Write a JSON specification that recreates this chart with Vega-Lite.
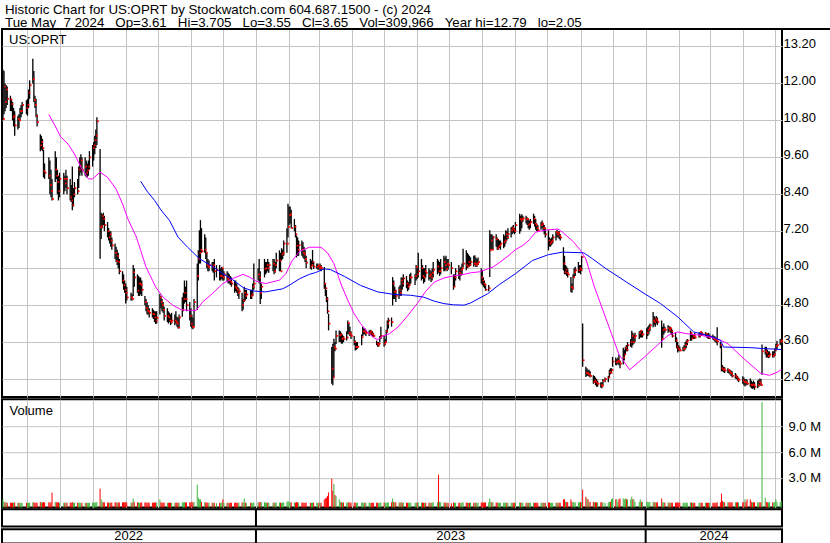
{
"$schema":"https://vega.github.io/schema/vega-lite/v6.json",
"background":"white",
"padding":{"left":0,"top":2,"right":0,"bottom":0},
"spacing":0.2,
"title":{"text":["Historic Chart for US:OPRT by Stockwatch.com 604.687.1500 - (c) 2024","Tue May \u00a07 2024 \u00a0\u00a0Op=3.61 \u00a0\u00a0Hi=3.705 \u00a0\u00a0Lo=3.55 \u00a0\u00a0Cl=3.65 \u00a0\u00a0Vol=309,966 \u00a0\u00a0Year hi=12.79 \u00a0\u00a0lo=2.05"],"anchor":"start","frame":"bounds","font":"Liberation Sans","fontSize":13.3,"fontWeight":"normal","color":"black","lineHeight":13.5,"offset":-2.7,"dx":5},
"config":{
"view":{"stroke":"black","strokeWidth":2},
"axis":{"domain":false,"ticks":false,"gridColor":"#c4c4c4","gridWidth":1,"labelFont":"Liberation Sans","labelFontSize":13,"labelColor":"black","labelOverlap":false,"labelFlush":false}
},
"datasets":{
"yrs":[{"d":"2023-01-01"},{"d":"2024-01-01"}],
"ma":[
{"d":"2022-06-21","s":"a","p":10.99},{"d":"2022-06-26","s":"a","p":10.68},{"d":"2022-07-02","s":"a","p":10.27},{"d":"2022-07-09","s":"a","p":10.03},{"d":"2022-07-15","s":"a","p":9.71},{"d":"2022-07-21","s":"a","p":9.28},{"d":"2022-07-28","s":"a","p":8.9},{"d":"2022-08-01","s":"a","p":8.9},{"d":"2022-08-08","s":"a","p":9.12},{"d":"2022-08-15","s":"a","p":8.95},{"d":"2022-08-23","s":"a","p":8.57},{"d":"2022-08-29","s":"a","p":8.09},{"d":"2022-09-03","s":"a","p":7.6},{"d":"2022-09-11","s":"a","p":7.01},{"d":"2022-09-15","s":"a","p":6.58},{"d":"2022-09-20","s":"a","p":6.04},{"d":"2022-09-26","s":"a","p":5.61},{"d":"2022-09-29","s":"a","p":5.39},{"d":"2022-10-06","s":"a","p":5.06},{"d":"2022-10-15","s":"a","p":4.8},{"d":"2022-10-23","s":"a","p":4.65},{"d":"2022-10-31","s":"a","p":4.63},{"d":"2022-11-06","s":"a","p":4.63},{"d":"2022-11-12","s":"a","p":4.9},{"d":"2022-11-21","s":"a","p":5.17},{"d":"2022-12-01","s":"a","p":5.5},{"d":"2022-12-10","s":"a","p":5.66},{"d":"2022-12-20","s":"a","p":5.8},{"d":"2022-12-26","s":"a","p":5.71},{"d":"2023-01-01","s":"a","p":5.58},{"d":"2023-01-10","s":"a","p":5.5},{"d":"2023-01-23","s":"a","p":5.61},{"d":"2023-01-29","s":"a","p":5.82},{"d":"2023-02-04","s":"a","p":6.25},{"d":"2023-02-11","s":"a","p":6.55},{"d":"2023-02-20","s":"a","p":6.68},{"d":"2023-03-03","s":"a","p":6.68},{"d":"2023-03-09","s":"a","p":6.5},{"d":"2023-03-15","s":"a","p":6.15},{"d":"2023-03-22","s":"a","p":5.45},{"d":"2023-03-28","s":"a","p":4.96},{"d":"2023-04-03","s":"a","p":4.52},{"d":"2023-04-09","s":"a","p":4.2},{"d":"2023-04-16","s":"a","p":3.9},{"d":"2023-04-22","s":"a","p":3.73},{"d":"2023-04-25","s":"a","p":3.68},{"d":"2023-04-30","s":"a","p":3.8},{"d":"2023-05-06","s":"a","p":3.87},{"d":"2023-05-14","s":"a","p":4.09},{"d":"2023-05-23","s":"a","p":4.45},{"d":"2023-06-01","s":"a","p":4.85},{"d":"2023-06-09","s":"a","p":5.25},{"d":"2023-06-17","s":"a","p":5.55},{"d":"2023-06-26","s":"a","p":5.68},{"d":"2023-07-05","s":"a","p":5.75},{"d":"2023-07-15","s":"a","p":5.8},{"d":"2023-07-21","s":"a","p":5.85},{"d":"2023-07-29","s":"a","p":5.88},{"d":"2023-08-04","s":"a","p":5.95},{"d":"2023-08-11","s":"a","p":6.04},{"d":"2023-08-17","s":"a","p":6.18},{"d":"2023-08-26","s":"a","p":6.42},{"d":"2023-09-01","s":"a","p":6.6},{"d":"2023-09-08","s":"a","p":6.74},{"d":"2023-09-14","s":"a","p":6.92},{"d":"2023-09-20","s":"a","p":7.17},{"d":"2023-09-30","s":"a","p":7.24},{"d":"2023-10-11","s":"a","p":7.27},{"d":"2023-10-15","s":"a","p":7.17},{"d":"2023-10-25","s":"a","p":6.87},{"d":"2023-11-01","s":"a","p":6.58},{"d":"2023-11-06","s":"a","p":6.3},{"d":"2023-11-14","s":"a","p":5.39},{"d":"2023-11-22","s":"a","p":4.63},{"d":"2023-11-30","s":"a","p":3.87},{"d":"2023-12-07","s":"a","p":3.2},{"d":"2023-12-17","s":"a","p":2.7},{"d":"2023-12-31","s":"a","p":3.12},{"d":"2024-01-12","s":"a","p":3.5},{"d":"2024-01-22","s":"a","p":3.82},{"d":"2024-01-31","s":"a","p":3.93},{"d":"2024-02-09","s":"a","p":3.87},{"d":"2024-02-22","s":"a","p":3.82},{"d":"2024-03-08","s":"a","p":3.71},{"d":"2024-03-18","s":"a","p":3.55},{"d":"2024-04-02","s":"a","p":3.06},{"d":"2024-04-18","s":"a","p":2.58},{"d":"2024-04-26","s":"a","p":2.52},{"d":"2024-05-04","s":"a","p":2.63},{"d":"2024-05-07","s":"a","p":2.71},
{"d":"2022-09-15","s":"b","p":8.82},{"d":"2022-09-21","s":"b","p":8.5},{"d":"2022-09-28","s":"b","p":8.2},{"d":"2022-10-04","s":"b","p":7.89},{"d":"2022-10-12","s":"b","p":7.55},{"d":"2022-10-20","s":"b","p":7.01},{"d":"2022-10-29","s":"b","p":6.68},{"d":"2022-11-09","s":"b","p":6.31},{"d":"2022-11-22","s":"b","p":6.04},{"d":"2022-12-01","s":"b","p":5.82},{"d":"2022-12-10","s":"b","p":5.63},{"d":"2022-12-20","s":"b","p":5.37},{"d":"2022-12-29","s":"b","p":5.26},{"d":"2023-01-10","s":"b","p":5.23},{"d":"2023-01-26","s":"b","p":5.33},{"d":"2023-02-01","s":"b","p":5.44},{"d":"2023-02-11","s":"b","p":5.66},{"d":"2023-02-20","s":"b","p":5.8},{"d":"2023-02-26","s":"b","p":5.86},{"d":"2023-03-06","s":"b","p":5.98},{"d":"2023-03-12","s":"b","p":5.95},{"d":"2023-03-25","s":"b","p":5.73},{"d":"2023-04-09","s":"b","p":5.44},{"d":"2023-04-25","s":"b","p":5.23},{"d":"2023-05-10","s":"b","p":5.15},{"d":"2023-05-26","s":"b","p":5.12},{"d":"2023-06-07","s":"b","p":5.06},{"d":"2023-06-17","s":"b","p":4.93},{"d":"2023-06-26","s":"b","p":4.85},{"d":"2023-07-05","s":"b","p":4.81},{"d":"2023-07-15","s":"b","p":4.8},{"d":"2023-07-21","s":"b","p":4.87},{"d":"2023-08-06","s":"b","p":5.17},{"d":"2023-08-17","s":"b","p":5.47},{"d":"2023-09-01","s":"b","p":5.82},{"d":"2023-09-17","s":"b","p":6.25},{"d":"2023-10-02","s":"b","p":6.44},{"d":"2023-10-15","s":"b","p":6.52},{"d":"2023-11-04","s":"b","p":6.5},{"d":"2023-11-12","s":"b","p":6.31},{"d":"2023-11-25","s":"b","p":5.98},{"d":"2023-12-07","s":"b","p":5.71},{"d":"2023-12-14","s":"b","p":5.55},{"d":"2024-01-01","s":"b","p":5.15},{"d":"2024-01-15","s":"b","p":4.85},{"d":"2024-01-31","s":"b","p":4.42},{"d":"2024-02-15","s":"b","p":3.93},{"d":"2024-03-02","s":"b","p":3.79},{"d":"2024-03-11","s":"b","p":3.66},{"d":"2024-03-14","s":"b","p":3.44},{"d":"2024-04-08","s":"b","p":3.42},{"d":"2024-04-20","s":"b","p":3.39},{"d":"2024-05-07","s":"b","p":3.36}
],
"px":[
{"d":"2022-05-09","h":12.45,"l":10.8,"c":10.85,"v":0.5},{"d":"2022-05-10","h":12.4,"l":11.0,"c":11.9,"v":0.2},{"d":"2022-05-11","h":12.0,"l":11.1,"c":11.4,"v":0.15},{"d":"2022-05-12","h":11.95,"l":11.2,"c":11.8,"v":0.15},{"d":"2022-05-13","h":11.9,"l":11.3,"c":11.5,"v":0.1},
{"d":"2022-05-16","h":11.6,"l":11.1,"c":11.48,"v":0.1},{"d":"2022-05-17","h":11.5,"l":11.1,"c":11.33,"v":0.1},{"d":"2022-05-18","h":11.4,"l":10.8,"c":10.9,"v":0.12},{"d":"2022-05-19","h":11.2,"l":10.6,"c":10.95,"v":0.1},{"d":"2022-05-20","h":11.1,"l":10.3,"c":10.64,"v":0.15},
{"d":"2022-05-23","h":10.95,"l":10.5,"c":10.84,"v":0.1},{"d":"2022-05-24","h":11.0,"l":10.55,"c":10.8,"v":0.1},{"d":"2022-05-25","h":11.2,"l":10.8,"c":11.1,"v":0.1},{"d":"2022-05-26","h":11.3,"l":10.9,"c":11.1,"v":0.08},{"d":"2022-05-27","h":11.4,"l":11.0,"c":11.3,"v":0.08},
{"d":"2022-05-31","h":11.45,"l":11.0,"c":11.2,"v":0.1},{"d":"2022-06-01","h":11.5,"l":10.95,"c":11.3,"v":0.1},{"d":"2022-06-02","h":11.8,"l":11.2,"c":11.7,"v":0.1},{"d":"2022-06-03","h":12.1,"l":11.5,"c":11.94,"v":0.12},
{"d":"2022-06-06","h":12.8,"l":12.0,"c":12.14,"v":0.15},{"d":"2022-06-07","h":12.4,"l":11.4,"c":11.46,"v":0.15},{"d":"2022-06-08","h":11.6,"l":11.2,"c":11.3,"v":0.1},{"d":"2022-06-09","h":11.5,"l":10.9,"c":10.95,"v":0.1},{"d":"2022-06-10","h":11.0,"l":10.6,"c":10.74,"v":0.12},
{"d":"2022-06-13","h":10.35,"l":9.8,"c":9.99,"v":0.2},{"d":"2022-06-14","h":10.3,"l":9.85,"c":10.1,"v":0.15},{"d":"2022-06-15","h":10.2,"l":9.8,"c":9.9,"v":0.12},{"d":"2022-06-16","h":9.85,"l":8.95,"c":9.15,"v":0.18},{"d":"2022-06-17","h":9.4,"l":8.9,"c":9.1,"v":0.15},
{"d":"2022-06-21","h":9.6,"l":8.9,"c":9.0,"v":0.15},{"d":"2022-06-22","h":9.5,"l":8.4,"c":8.7,"v":0.15},{"d":"2022-06-23","h":9.2,"l":8.3,"c":8.5,"v":0.15},{"d":"2022-06-24","h":8.9,"l":8.2,"c":8.24,"v":1.28},
{"d":"2022-06-27","h":9.8,"l":8.8,"c":9.2,"v":0.2},{"d":"2022-06-28","h":9.6,"l":8.9,"c":9.0,"v":0.15},{"d":"2022-06-29","h":9.2,"l":8.4,"c":8.8,"v":0.15},{"d":"2022-06-30","h":9.0,"l":8.2,"c":8.5,"v":0.15},{"d":"2022-07-01","h":9.1,"l":8.3,"c":8.9,"v":0.1},
{"d":"2022-07-05","h":9.1,"l":8.4,"c":8.9,"v":0.1},{"d":"2022-07-06","h":9.0,"l":8.5,"c":8.75,"v":0.1},{"d":"2022-07-07","h":9.2,"l":8.6,"c":8.9,"v":0.1},{"d":"2022-07-08","h":9.0,"l":8.4,"c":8.6,"v":0.1},
{"d":"2022-07-11","h":8.9,"l":8.2,"c":8.3,"v":0.12},{"d":"2022-07-12","h":8.7,"l":8.15,"c":8.2,"v":0.1},{"d":"2022-07-13","h":9.3,"l":7.88,"c":8.05,"v":0.18},{"d":"2022-07-14","h":8.6,"l":8.0,"c":8.4,"v":0.1},{"d":"2022-07-15","h":8.8,"l":8.3,"c":8.6,"v":0.1},
{"d":"2022-07-18","h":8.9,"l":8.4,"c":8.5,"v":0.1},{"d":"2022-07-19","h":9.3,"l":8.6,"c":9.2,"v":0.12},{"d":"2022-07-20","h":9.6,"l":9.0,"c":9.33,"v":0.12},{"d":"2022-07-21","h":9.7,"l":9.1,"c":9.5,"v":0.1},{"d":"2022-07-22","h":9.6,"l":9.0,"c":9.2,"v":0.1},
{"d":"2022-07-25","h":9.6,"l":9.0,"c":9.3,"v":0.1},{"d":"2022-07-26","h":9.5,"l":8.95,"c":9.1,"v":0.08},{"d":"2022-07-27","h":9.4,"l":8.95,"c":9.18,"v":0.1},{"d":"2022-07-28","h":9.5,"l":9.0,"c":9.3,"v":0.1},{"d":"2022-07-29","h":9.8,"l":9.2,"c":9.6,"v":0.1},
{"d":"2022-08-01","h":10.0,"l":9.3,"c":9.9,"v":0.12},{"d":"2022-08-02","h":10.1,"l":9.5,"c":9.99,"v":0.1},{"d":"2022-08-03","h":10.3,"l":9.7,"c":10.16,"v":0.12},{"d":"2022-08-04","h":10.5,"l":9.9,"c":10.3,"v":0.15},{"d":"2022-08-05","h":10.9,"l":10.0,"c":10.77,"v":0.18},
{"d":"2022-08-08","h":9.87,"l":6.31,"c":7.33,"v":1.74},{"d":"2022-08-09","h":7.8,"l":6.95,"c":7.36,"v":0.5},{"d":"2022-08-10","h":7.75,"l":7.3,"c":7.69,"v":0.2},{"d":"2022-08-11","h":7.8,"l":7.4,"c":7.6,"v":0.15},{"d":"2022-08-12","h":7.7,"l":7.2,"c":7.4,"v":0.15},
{"d":"2022-08-15","h":7.5,"l":7.0,"c":7.2,"v":0.12},{"d":"2022-08-16","h":7.3,"l":6.9,"c":7.0,"v":0.12},{"d":"2022-08-17","h":7.2,"l":6.8,"c":7.1,"v":0.1},{"d":"2022-08-18","h":7.2,"l":6.7,"c":6.9,"v":0.12},{"d":"2022-08-19","h":7.0,"l":6.6,"c":6.74,"v":0.12},
{"d":"2022-08-22","h":6.8,"l":6.3,"c":6.5,"v":0.15},{"d":"2022-08-23","h":6.7,"l":6.2,"c":6.23,"v":0.15},{"d":"2022-08-24","h":6.6,"l":6.1,"c":6.4,"v":0.12},{"d":"2022-08-25","h":6.5,"l":6.0,"c":6.2,"v":0.12},{"d":"2022-08-26","h":6.3,"l":5.8,"c":5.9,"v":0.15},
{"d":"2022-08-29","h":5.9,"l":5.5,"c":5.6,"v":0.15},{"d":"2022-08-30","h":5.8,"l":5.3,"c":5.45,"v":0.15},{"d":"2022-08-31","h":5.6,"l":5.2,"c":5.3,"v":0.15},{"d":"2022-09-01","h":5.5,"l":4.85,"c":5.2,"v":0.18},{"d":"2022-09-02","h":5.4,"l":4.95,"c":5.05,"v":0.12},
{"d":"2022-09-06","h":5.2,"l":4.95,"c":5.05,"v":0.12},{"d":"2022-09-07","h":5.15,"l":4.95,"c":5.0,"v":0.1},{"d":"2022-09-08","h":6.1,"l":5.1,"c":5.87,"v":0.6},{"d":"2022-09-09","h":6.0,"l":5.4,"c":5.7,"v":0.18},
{"d":"2022-09-12","h":5.8,"l":5.2,"c":5.27,"v":0.15},{"d":"2022-09-13","h":5.75,"l":5.1,"c":5.5,"v":0.15},{"d":"2022-09-14","h":5.7,"l":5.1,"c":5.5,"v":0.1},{"d":"2022-09-15","h":5.7,"l":5.15,"c":5.45,"v":0.1},{"d":"2022-09-16","h":5.6,"l":5.1,"c":5.3,"v":0.15},
{"d":"2022-09-19","h":5.1,"l":4.8,"c":4.9,"v":0.15},{"d":"2022-09-20","h":5.0,"l":4.6,"c":4.7,"v":0.12},{"d":"2022-09-21","h":4.9,"l":4.5,"c":4.62,"v":0.12},{"d":"2022-09-22","h":4.8,"l":4.5,"c":4.6,"v":0.1},{"d":"2022-09-23","h":4.7,"l":4.4,"c":4.55,"v":0.12},
{"d":"2022-09-26","h":4.7,"l":4.4,"c":4.52,"v":0.12},{"d":"2022-09-27","h":4.65,"l":4.35,"c":4.5,"v":0.1},{"d":"2022-09-28","h":4.6,"l":4.25,"c":4.4,"v":0.12},{"d":"2022-09-29","h":4.6,"l":4.19,"c":4.3,"v":0.15},{"d":"2022-09-30","h":4.6,"l":4.2,"c":4.39,"v":0.12},
{"d":"2022-10-03","h":5.17,"l":4.5,"c":5.05,"v":0.5},{"d":"2022-10-04","h":5.1,"l":4.7,"c":4.9,"v":0.15},{"d":"2022-10-05","h":5.0,"l":4.6,"c":4.8,"v":0.12},{"d":"2022-10-06","h":4.9,"l":4.55,"c":4.65,"v":0.1},{"d":"2022-10-07","h":4.75,"l":4.3,"c":4.45,"v":0.12},
{"d":"2022-10-10","h":4.7,"l":4.25,"c":4.45,"v":0.1},{"d":"2022-10-11","h":4.6,"l":4.2,"c":4.4,"v":0.1},{"d":"2022-10-12","h":4.55,"l":4.25,"c":4.3,"v":0.1},{"d":"2022-10-13","h":4.5,"l":4.15,"c":4.25,"v":0.12},{"d":"2022-10-14","h":4.55,"l":4.2,"c":4.3,"v":0.1},
{"d":"2022-10-17","h":4.5,"l":4.15,"c":4.3,"v":0.1},{"d":"2022-10-18","h":4.6,"l":4.2,"c":4.25,"v":0.1},{"d":"2022-10-19","h":4.42,"l":4.1,"c":4.2,"v":0.1},{"d":"2022-10-20","h":4.4,"l":4.04,"c":4.07,"v":0.12},{"d":"2022-10-21","h":4.5,"l":4.05,"c":4.4,"v":0.1},
{"d":"2022-10-24","h":5.06,"l":4.42,"c":4.65,"v":0.15},{"d":"2022-10-25","h":5.2,"l":4.6,"c":5.0,"v":0.15},{"d":"2022-10-26","h":5.6,"l":4.85,"c":5.2,"v":0.18},{"d":"2022-10-27","h":5.4,"l":4.9,"c":5.0,"v":0.12},{"d":"2022-10-28","h":5.6,"l":4.6,"c":4.8,"v":0.15},
{"d":"2022-10-31","h":4.9,"l":4.3,"c":4.45,"v":0.15},{"d":"2022-11-01","h":4.7,"l":4.1,"c":4.2,"v":0.15},{"d":"2022-11-02","h":4.5,"l":4.04,"c":4.1,"v":0.18},{"d":"2022-11-03","h":4.4,"l":4.02,"c":4.09,"v":0.15},{"d":"2022-11-04","h":5.0,"l":4.1,"c":4.9,"v":0.2},
{"d":"2022-11-07","h":6.15,"l":4.64,"c":5.75,"v":2.2},{"d":"2022-11-08","h":6.58,"l":5.6,"c":6.3,"v":0.7},{"d":"2022-11-09","h":7.23,"l":6.15,"c":6.5,"v":0.5},{"d":"2022-11-10","h":7.56,"l":6.15,"c":6.6,"v":0.5},{"d":"2022-11-11","h":7.3,"l":6.5,"c":6.55,"v":0.2},
{"d":"2022-11-14","h":7.1,"l":6.5,"c":6.6,"v":0.15},{"d":"2022-11-15","h":7.0,"l":6.3,"c":6.5,"v":0.15},{"d":"2022-11-16","h":6.5,"l":6.0,"c":6.1,"v":0.12},{"d":"2022-11-17","h":6.3,"l":5.9,"c":6.04,"v":0.12},{"d":"2022-11-18","h":6.25,"l":5.9,"c":6.1,"v":0.1},
{"d":"2022-11-21","h":6.2,"l":5.9,"c":6.05,"v":0.1},{"d":"2022-11-22","h":6.2,"l":5.85,"c":6.1,"v":0.1},{"d":"2022-11-23","h":6.3,"l":5.6,"c":5.9,"v":0.1},{"d":"2022-11-25","h":6.1,"l":5.7,"c":5.95,"v":0.05},
{"d":"2022-11-28","h":6.1,"l":5.6,"c":5.75,"v":0.1},{"d":"2022-11-29","h":6.0,"l":5.6,"c":5.75,"v":0.1},{"d":"2022-11-30","h":6.05,"l":5.65,"c":6.0,"v":0.12},{"d":"2022-12-01","h":6.0,"l":5.6,"c":5.7,"v":0.5},{"d":"2022-12-02","h":5.9,"l":5.6,"c":5.8,"v":0.1},
{"d":"2022-12-05","h":5.9,"l":5.55,"c":5.65,"v":0.1},{"d":"2022-12-06","h":5.85,"l":5.5,"c":5.7,"v":0.1},{"d":"2022-12-07","h":5.8,"l":5.5,"c":5.6,"v":0.1},{"d":"2022-12-08","h":5.75,"l":5.45,"c":5.55,"v":0.1},{"d":"2022-12-09","h":5.7,"l":5.4,"c":5.5,"v":0.1},
{"d":"2022-12-12","h":5.6,"l":5.2,"c":5.4,"v":0.1},{"d":"2022-12-13","h":5.6,"l":5.25,"c":5.35,"v":0.12},{"d":"2022-12-14","h":5.5,"l":5.2,"c":5.3,"v":0.1},{"d":"2022-12-15","h":5.4,"l":5.1,"c":5.2,"v":0.1},{"d":"2022-12-16","h":5.35,"l":5.0,"c":5.25,"v":0.12},
{"d":"2022-12-19","h":5.2,"l":4.6,"c":4.8,"v":0.15},{"d":"2022-12-20","h":5.0,"l":4.65,"c":4.95,"v":0.12},{"d":"2022-12-21","h":5.4,"l":4.9,"c":5.2,"v":0.6},{"d":"2022-12-22","h":5.3,"l":4.95,"c":5.1,"v":0.12},{"d":"2022-12-23","h":5.3,"l":5.0,"c":5.15,"v":0.08},
{"d":"2022-12-27","h":5.3,"l":5.0,"c":5.1,"v":0.1},{"d":"2022-12-28","h":5.3,"l":5.0,"c":5.15,"v":0.1},{"d":"2022-12-29","h":5.5,"l":5.1,"c":5.4,"v":0.1},{"d":"2022-12-30","h":6.15,"l":5.3,"c":5.5,"v":0.15},
{"d":"2023-01-03","h":6.0,"l":5.6,"c":5.8,"v":0.15},{"d":"2023-01-04","h":6.3,"l":5.5,"c":5.7,"v":0.15},{"d":"2023-01-05","h":5.9,"l":4.84,"c":5.2,"v":0.18},{"d":"2023-01-06","h":5.5,"l":5.0,"c":5.4,"v":0.15},
{"d":"2023-01-09","h":6.3,"l":5.7,"c":5.98,"v":0.15},{"d":"2023-01-10","h":6.2,"l":5.8,"c":6.0,"v":0.12},{"d":"2023-01-11","h":6.2,"l":5.85,"c":6.1,"v":0.12},{"d":"2023-01-12","h":6.3,"l":5.9,"c":6.0,"v":0.12},{"d":"2023-01-13","h":6.2,"l":5.85,"c":6.1,"v":0.1},
{"d":"2023-01-17","h":6.3,"l":5.9,"c":6.15,"v":0.1},{"d":"2023-01-18","h":6.3,"l":5.8,"c":5.9,"v":0.12},{"d":"2023-01-19","h":6.2,"l":5.85,"c":6.1,"v":0.1},{"d":"2023-01-20","h":6.5,"l":6.0,"c":6.25,"v":0.12},
{"d":"2023-01-23","h":6.58,"l":5.9,"c":6.25,"v":0.12},{"d":"2023-01-24","h":6.5,"l":5.9,"c":5.9,"v":0.1},{"d":"2023-01-25","h":6.65,"l":6.25,"c":6.45,"v":0.12},{"d":"2023-01-26","h":6.6,"l":6.3,"c":6.5,"v":0.1},{"d":"2023-01-27","h":6.9,"l":6.4,"c":6.8,"v":0.15},
{"d":"2023-01-30","h":7.3,"l":6.5,"c":6.8,"v":0.18},{"d":"2023-01-31","h":8.09,"l":7.0,"c":7.34,"v":0.3},{"d":"2023-02-01","h":8.0,"l":7.4,"c":7.72,"v":0.2},{"d":"2023-02-02","h":8.0,"l":7.45,"c":7.75,"v":0.18},{"d":"2023-02-03","h":7.9,"l":7.3,"c":7.3,"v":0.15},
{"d":"2023-02-06","h":7.6,"l":7.2,"c":7.35,"v":0.12},{"d":"2023-02-07","h":7.4,"l":7.0,"c":7.1,"v":0.12},{"d":"2023-02-08","h":7.06,"l":6.35,"c":6.73,"v":0.18},{"d":"2023-02-09","h":7.0,"l":6.4,"c":6.6,"v":0.15},{"d":"2023-02-10","h":6.9,"l":6.4,"c":6.75,"v":0.12},
{"d":"2023-02-13","h":6.9,"l":6.4,"c":6.6,"v":0.12},{"d":"2023-02-14","h":6.85,"l":6.35,"c":6.5,"v":0.12},{"d":"2023-02-15","h":6.7,"l":6.3,"c":6.45,"v":0.1},{"d":"2023-02-16","h":6.6,"l":6.2,"c":6.3,"v":0.1},{"d":"2023-02-17","h":6.4,"l":6.0,"c":6.18,"v":0.1},
{"d":"2023-02-21","h":6.3,"l":5.98,"c":6.05,"v":0.1},{"d":"2023-02-22","h":6.25,"l":5.95,"c":6.1,"v":0.1},{"d":"2023-02-23","h":6.59,"l":6.13,"c":6.2,"v":0.12},{"d":"2023-02-24","h":6.2,"l":5.98,"c":6.05,"v":0.1},
{"d":"2023-02-27","h":6.15,"l":5.98,"c":6.05,"v":0.1},{"d":"2023-02-28","h":6.15,"l":5.95,"c":6.08,"v":0.1},{"d":"2023-03-01","h":6.1,"l":5.95,"c":6.0,"v":0.1},{"d":"2023-03-02","h":6.15,"l":5.95,"c":6.05,"v":0.1},{"d":"2023-03-03","h":6.1,"l":5.9,"c":6.0,"v":0.1},
{"d":"2023-03-06","h":6.04,"l":5.33,"c":5.5,"v":0.5},{"d":"2023-03-07","h":5.5,"l":5.1,"c":5.35,"v":0.6},{"d":"2023-03-08","h":5.3,"l":4.9,"c":5.0,"v":0.7},{"d":"2023-03-09","h":5.06,"l":4.52,"c":4.6,"v":0.9},{"d":"2023-03-10","h":4.52,"l":3.98,"c":4.2,"v":1.3},
{"d":"2023-03-13","h":3.44,"l":2.25,"c":2.74,"v":2.9},{"d":"2023-03-14","h":3.55,"l":2.2,"c":2.45,"v":1.5},{"d":"2023-03-15","h":3.71,"l":2.47,"c":3.44,"v":2.3},{"d":"2023-03-16","h":3.6,"l":3.3,"c":3.39,"v":1.0},{"d":"2023-03-17","h":3.98,"l":3.54,"c":3.8,"v":0.9},
{"d":"2023-03-20","h":3.98,"l":3.6,"c":3.82,"v":0.5},{"d":"2023-03-21","h":3.95,"l":3.6,"c":3.85,"v":0.2},{"d":"2023-03-22","h":3.9,"l":3.55,"c":3.7,"v":0.15},{"d":"2023-03-23","h":3.85,"l":3.55,"c":3.75,"v":0.15},{"d":"2023-03-24","h":3.8,"l":3.6,"c":3.7,"v":0.12},
{"d":"2023-03-27","h":3.95,"l":3.65,"c":3.75,"v":0.12},{"d":"2023-03-28","h":4.3,"l":3.86,"c":4.22,"v":0.15},{"d":"2023-03-29","h":4.2,"l":3.85,"c":3.9,"v":0.15},{"d":"2023-03-30","h":4.1,"l":3.8,"c":3.85,"v":0.12},{"d":"2023-03-31","h":3.95,"l":3.7,"c":3.8,"v":0.12},
{"d":"2023-04-03","h":3.8,"l":3.5,"c":3.6,"v":0.12},{"d":"2023-04-04","h":3.65,"l":3.33,"c":3.44,"v":0.12},{"d":"2023-04-05","h":3.6,"l":3.35,"c":3.44,"v":0.1},{"d":"2023-04-06","h":3.6,"l":3.38,"c":3.45,"v":0.1},
{"d":"2023-04-10","h":3.85,"l":3.5,"c":3.76,"v":0.12},{"d":"2023-04-11","h":4.1,"l":3.8,"c":3.95,"v":0.12},{"d":"2023-04-12","h":4.05,"l":3.85,"c":3.95,"v":0.1},{"d":"2023-04-13","h":4.05,"l":3.85,"c":3.9,"v":0.1},{"d":"2023-04-14","h":4.0,"l":3.8,"c":3.9,"v":0.1},
{"d":"2023-04-17","h":3.98,"l":3.8,"c":3.9,"v":0.1},{"d":"2023-04-18","h":4.0,"l":3.85,"c":3.95,"v":0.1},{"d":"2023-04-19","h":3.98,"l":3.82,"c":3.88,"v":0.1},{"d":"2023-04-20","h":3.95,"l":3.78,"c":3.85,"v":0.1},{"d":"2023-04-21","h":3.9,"l":3.75,"c":3.8,"v":0.1},
{"d":"2023-04-24","h":3.65,"l":3.5,"c":3.55,"v":0.1},{"d":"2023-04-25","h":3.6,"l":3.45,"c":3.5,"v":0.1},{"d":"2023-04-26","h":3.6,"l":3.45,"c":3.55,"v":0.1},{"d":"2023-04-27","h":3.8,"l":3.6,"c":3.75,"v":0.1},{"d":"2023-04-28","h":4.1,"l":3.7,"c":3.8,"v":0.12},
{"d":"2023-05-01","h":3.8,"l":3.45,"c":3.55,"v":0.12},{"d":"2023-05-02","h":3.7,"l":3.5,"c":3.6,"v":0.1},{"d":"2023-05-03","h":4.0,"l":3.6,"c":3.95,"v":0.1},{"d":"2023-05-04","h":4.3,"l":3.9,"c":4.2,"v":0.15},{"d":"2023-05-05","h":4.39,"l":4.04,"c":4.3,"v":0.15},
{"d":"2023-05-08","h":4.4,"l":4.1,"c":4.25,"v":0.15},{"d":"2023-05-09","h":5.71,"l":4.79,"c":5.5,"v":0.6},{"d":"2023-05-10","h":5.6,"l":5.0,"c":5.23,"v":0.2},{"d":"2023-05-11","h":5.4,"l":5.0,"c":5.25,"v":0.15},{"d":"2023-05-12","h":5.3,"l":4.9,"c":5.1,"v":0.15},
{"d":"2023-05-15","h":5.4,"l":5.0,"c":5.3,"v":0.12},{"d":"2023-05-16","h":5.45,"l":5.1,"c":5.2,"v":0.12},{"d":"2023-05-17","h":5.7,"l":5.1,"c":5.6,"v":0.15},{"d":"2023-05-18","h":5.7,"l":5.3,"c":5.5,"v":0.12},{"d":"2023-05-19","h":5.8,"l":5.4,"c":5.67,"v":0.12},
{"d":"2023-05-22","h":5.75,"l":5.35,"c":5.5,"v":0.1},{"d":"2023-05-23","h":5.6,"l":5.25,"c":5.4,"v":0.1},{"d":"2023-05-24","h":5.55,"l":5.3,"c":5.45,"v":0.1},{"d":"2023-05-25","h":5.8,"l":5.45,"c":5.7,"v":0.12},{"d":"2023-05-26","h":5.85,"l":5.5,"c":5.7,"v":0.1},
{"d":"2023-05-30","h":5.8,"l":5.45,"c":5.75,"v":0.1},{"d":"2023-05-31","h":6.1,"l":5.6,"c":6.04,"v":0.12},{"d":"2023-06-01","h":6.0,"l":5.65,"c":5.8,"v":0.1},{"d":"2023-06-02","h":6.5,"l":5.7,"c":5.9,"v":0.15},
{"d":"2023-06-05","h":6.3,"l":5.6,"c":6.0,"v":0.12},{"d":"2023-06-06","h":6.1,"l":5.65,"c":5.75,"v":0.12},{"d":"2023-06-07","h":6.0,"l":5.5,"c":5.7,"v":0.1},{"d":"2023-06-08","h":6.0,"l":5.55,"c":5.9,"v":0.1},{"d":"2023-06-09","h":6.1,"l":5.7,"c":5.85,"v":0.1},
{"d":"2023-06-12","h":6.0,"l":5.6,"c":5.75,"v":0.1},{"d":"2023-06-13","h":5.95,"l":5.65,"c":5.8,"v":0.1},{"d":"2023-06-14","h":5.9,"l":5.55,"c":5.7,"v":0.1},{"d":"2023-06-15","h":6.0,"l":5.6,"c":5.85,"v":0.12},{"d":"2023-06-16","h":6.2,"l":5.7,"c":5.95,"v":0.15},
{"d":"2023-06-20","h":6.3,"l":5.8,"c":6.05,"v":0.15},{"d":"2023-06-21","h":6.25,"l":5.85,"c":5.9,"v":3.37},{"d":"2023-06-22","h":6.2,"l":5.75,"c":5.9,"v":0.2},{"d":"2023-06-23","h":6.3,"l":5.8,"c":6.0,"v":0.15},
{"d":"2023-06-26","h":6.4,"l":5.9,"c":6.2,"v":0.12},{"d":"2023-06-27","h":6.35,"l":5.9,"c":6.1,"v":0.12},{"d":"2023-06-28","h":6.4,"l":5.95,"c":5.98,"v":0.12},{"d":"2023-06-29","h":6.3,"l":5.9,"c":6.15,"v":0.1},{"d":"2023-06-30","h":6.3,"l":5.95,"c":6.1,"v":0.1},
{"d":"2023-07-03","h":6.2,"l":5.8,"c":6.0,"v":0.05},{"d":"2023-07-05","h":5.8,"l":5.3,"c":5.4,"v":0.12},{"d":"2023-07-06","h":5.8,"l":5.4,"c":5.7,"v":0.1},{"d":"2023-07-07","h":6.0,"l":5.6,"c":5.9,"v":0.1},
{"d":"2023-07-10","h":6.1,"l":5.65,"c":5.85,"v":0.1},{"d":"2023-07-11","h":6.0,"l":5.6,"c":5.8,"v":0.1},{"d":"2023-07-12","h":6.05,"l":5.75,"c":5.95,"v":0.1},{"d":"2023-07-13","h":6.15,"l":5.8,"c":6.0,"v":0.1},{"d":"2023-07-14","h":6.63,"l":6.04,"c":6.15,"v":0.15},
{"d":"2023-07-17","h":6.58,"l":5.93,"c":6.1,"v":0.12},{"d":"2023-07-18","h":6.5,"l":6.0,"c":6.05,"v":0.1},{"d":"2023-07-19","h":6.45,"l":6.05,"c":6.2,"v":0.1},{"d":"2023-07-20","h":6.4,"l":6.05,"c":6.1,"v":0.1},{"d":"2023-07-21","h":6.35,"l":6.1,"c":6.2,"v":0.1},
{"d":"2023-07-24","h":6.4,"l":6.05,"c":6.15,"v":0.1},{"d":"2023-07-25","h":6.42,"l":6.1,"c":6.15,"v":0.1},{"d":"2023-07-26","h":6.35,"l":6.04,"c":6.1,"v":0.1},{"d":"2023-07-27","h":6.3,"l":6.05,"c":6.15,"v":0.1},{"d":"2023-07-28","h":6.35,"l":6.1,"c":6.2,"v":0.1},
{"d":"2023-07-31","h":6.0,"l":5.5,"c":5.7,"v":0.15},{"d":"2023-08-01","h":5.94,"l":5.45,"c":5.6,"v":0.12},{"d":"2023-08-02","h":5.7,"l":5.4,"c":5.5,"v":0.12},{"d":"2023-08-03","h":5.6,"l":5.35,"c":5.45,"v":0.12},{"d":"2023-08-04","h":5.5,"l":5.27,"c":5.3,"v":0.15},
{"d":"2023-08-07","h":5.45,"l":5.25,"c":5.35,"v":0.15},{"d":"2023-08-08","h":7.23,"l":5.71,"c":6.58,"v":0.6},{"d":"2023-08-09","h":7.1,"l":6.6,"c":6.9,"v":0.2},{"d":"2023-08-10","h":7.1,"l":6.6,"c":6.6,"v":0.15},{"d":"2023-08-11","h":7.05,"l":6.6,"c":7.0,"v":0.15},
{"d":"2023-08-14","h":7.1,"l":6.7,"c":6.95,"v":0.12},{"d":"2023-08-15","h":7.0,"l":6.6,"c":6.65,"v":0.12},{"d":"2023-08-16","h":6.95,"l":6.6,"c":6.7,"v":0.1},{"d":"2023-08-17","h":6.9,"l":6.65,"c":6.75,"v":0.1},{"d":"2023-08-18","h":6.9,"l":6.6,"c":6.8,"v":0.1},
{"d":"2023-08-21","h":7.1,"l":6.65,"c":6.85,"v":0.1},{"d":"2023-08-22","h":7.05,"l":6.7,"c":6.9,"v":0.1},{"d":"2023-08-23","h":7.23,"l":6.8,"c":7.1,"v":0.12},{"d":"2023-08-24","h":7.2,"l":6.9,"c":7.0,"v":0.1},{"d":"2023-08-25","h":7.3,"l":6.95,"c":7.11,"v":0.1},
{"d":"2023-08-28","h":7.33,"l":7.0,"c":7.23,"v":0.1},{"d":"2023-08-29","h":7.35,"l":7.1,"c":7.3,"v":0.1},{"d":"2023-08-30","h":7.4,"l":7.15,"c":7.25,"v":0.1},{"d":"2023-08-31","h":7.3,"l":7.1,"c":7.2,"v":0.1},{"d":"2023-09-01","h":7.5,"l":7.15,"c":7.4,"v":0.12},
{"d":"2023-09-05","h":7.77,"l":7.12,"c":7.6,"v":0.15},{"d":"2023-09-06","h":7.7,"l":7.2,"c":7.55,"v":0.12},{"d":"2023-09-07","h":7.75,"l":7.3,"c":7.6,"v":0.12},{"d":"2023-09-08","h":7.7,"l":7.5,"c":7.62,"v":0.1},
{"d":"2023-09-11","h":7.7,"l":7.45,"c":7.6,"v":0.1},{"d":"2023-09-12","h":7.65,"l":7.4,"c":7.6,"v":0.1},{"d":"2023-09-13","h":7.6,"l":7.3,"c":7.41,"v":0.1},{"d":"2023-09-14","h":7.55,"l":7.25,"c":7.45,"v":0.1},{"d":"2023-09-15","h":7.6,"l":7.3,"c":7.5,"v":0.1},
{"d":"2023-09-18","h":7.77,"l":7.44,"c":7.6,"v":0.12},{"d":"2023-09-19","h":7.7,"l":7.35,"c":7.45,"v":0.1},{"d":"2023-09-20","h":7.6,"l":7.25,"c":7.4,"v":0.1},{"d":"2023-09-21","h":7.45,"l":7.2,"c":7.3,"v":0.1},{"d":"2023-09-22","h":7.4,"l":7.2,"c":7.23,"v":0.1},
{"d":"2023-09-25","h":7.5,"l":7.25,"c":7.4,"v":0.1},{"d":"2023-09-26","h":7.55,"l":7.3,"c":7.45,"v":0.1},{"d":"2023-09-27","h":7.45,"l":7.2,"c":7.3,"v":0.1},{"d":"2023-09-28","h":7.4,"l":7.1,"c":7.3,"v":0.1},{"d":"2023-09-29","h":7.3,"l":7.0,"c":7.1,"v":0.1},
{"d":"2023-10-02","h":7.23,"l":6.58,"c":6.9,"v":0.15},{"d":"2023-10-03","h":7.0,"l":6.7,"c":6.8,"v":0.12},{"d":"2023-10-04","h":6.95,"l":6.7,"c":6.85,"v":0.1},{"d":"2023-10-05","h":7.0,"l":6.75,"c":6.9,"v":0.1},{"d":"2023-10-06","h":7.1,"l":6.8,"c":7.0,"v":0.1},
{"d":"2023-10-09","h":7.2,"l":6.9,"c":7.17,"v":0.1},{"d":"2023-10-10","h":7.25,"l":7.0,"c":7.1,"v":0.1},{"d":"2023-10-11","h":7.2,"l":7.0,"c":7.15,"v":0.1},{"d":"2023-10-12","h":7.2,"l":6.95,"c":7.05,"v":0.1},{"d":"2023-10-13","h":7.1,"l":6.9,"c":7.0,"v":0.1},
{"d":"2023-10-16","h":6.68,"l":5.93,"c":6.15,"v":0.5},{"d":"2023-10-17","h":6.4,"l":5.8,"c":5.87,"v":0.5},{"d":"2023-10-18","h":6.1,"l":5.8,"c":5.95,"v":0.2},{"d":"2023-10-19","h":6.05,"l":5.75,"c":5.85,"v":0.18},{"d":"2023-10-20","h":6.0,"l":5.7,"c":5.8,"v":0.18},
{"d":"2023-10-23","h":5.71,"l":5.23,"c":5.39,"v":0.5},{"d":"2023-10-24","h":5.5,"l":5.2,"c":5.35,"v":0.2},{"d":"2023-10-25","h":5.8,"l":5.3,"c":5.7,"v":0.18},{"d":"2023-10-26","h":6.0,"l":5.7,"c":5.87,"v":0.15},{"d":"2023-10-27","h":6.05,"l":5.75,"c":5.93,"v":0.15},
{"d":"2023-10-30","h":6.2,"l":5.85,"c":5.93,"v":0.15},{"d":"2023-10-31","h":6.1,"l":5.85,"c":6.0,"v":0.15},{"d":"2023-11-01","h":6.1,"l":5.8,"c":5.95,"v":0.15},{"d":"2023-11-02","h":6.4,"l":5.9,"c":6.36,"v":0.18},{"d":"2023-11-03","h":4.2,"l":2.8,"c":3.01,"v":1.63},
{"d":"2023-11-06","h":2.8,"l":2.47,"c":2.59,"v":0.8},{"d":"2023-11-07","h":2.75,"l":2.5,"c":2.6,"v":0.6},{"d":"2023-11-08","h":2.7,"l":2.5,"c":2.55,"v":0.5},{"d":"2023-11-09","h":2.7,"l":2.48,"c":2.55,"v":0.2},{"d":"2023-11-10","h":2.65,"l":2.45,"c":2.5,"v":0.2},
{"d":"2023-11-13","h":2.52,"l":2.25,"c":2.3,"v":0.2},{"d":"2023-11-14","h":2.5,"l":2.28,"c":2.35,"v":0.18},{"d":"2023-11-15","h":2.45,"l":2.2,"c":2.3,"v":0.15},{"d":"2023-11-16","h":2.4,"l":2.15,"c":2.25,"v":0.15},{"d":"2023-11-17","h":2.35,"l":2.15,"c":2.25,"v":0.15},
{"d":"2023-11-20","h":2.3,"l":2.12,"c":2.2,"v":0.15},{"d":"2023-11-21","h":2.3,"l":2.1,"c":2.18,"v":0.15},{"d":"2023-11-22","h":2.4,"l":2.2,"c":2.35,"v":0.15},{"d":"2023-11-24","h":2.45,"l":2.3,"c":2.4,"v":0.08},
{"d":"2023-11-27","h":2.5,"l":2.3,"c":2.45,"v":0.15},{"d":"2023-11-28","h":2.7,"l":2.45,"c":2.63,"v":0.2},{"d":"2023-11-29","h":2.75,"l":2.55,"c":2.6,"v":0.2},{"d":"2023-11-30","h":2.75,"l":2.6,"c":2.7,"v":0.5},{"d":"2023-12-01","h":3.12,"l":2.8,"c":2.97,"v":0.6},
{"d":"2023-12-04","h":3.1,"l":2.85,"c":2.95,"v":0.5},{"d":"2023-12-05","h":3.05,"l":2.85,"c":2.97,"v":0.5},{"d":"2023-12-06","h":3.1,"l":2.9,"c":3.0,"v":0.2},{"d":"2023-12-07","h":3.2,"l":2.85,"c":2.95,"v":0.5},{"d":"2023-12-08","h":3.0,"l":2.75,"c":2.9,"v":0.6},
{"d":"2023-12-11","h":3.42,"l":2.87,"c":3.1,"v":0.6},{"d":"2023-12-12","h":3.35,"l":3.0,"c":3.2,"v":0.5},{"d":"2023-12-13","h":3.45,"l":3.2,"c":3.42,"v":0.6},{"d":"2023-12-14","h":3.5,"l":3.3,"c":3.35,"v":0.5},{"d":"2023-12-15","h":3.6,"l":3.3,"c":3.5,"v":0.5},
{"d":"2023-12-18","h":3.7,"l":3.45,"c":3.6,"v":0.5},{"d":"2023-12-19","h":3.97,"l":3.42,"c":3.8,"v":0.8},{"d":"2023-12-20","h":3.9,"l":3.5,"c":3.6,"v":0.5},{"d":"2023-12-21","h":3.85,"l":3.55,"c":3.75,"v":0.5},{"d":"2023-12-22","h":3.9,"l":3.6,"c":3.8,"v":0.2},
{"d":"2023-12-26","h":3.95,"l":3.7,"c":3.9,"v":0.2},{"d":"2023-12-27","h":3.97,"l":3.75,"c":3.97,"v":0.5},{"d":"2023-12-28","h":3.95,"l":3.75,"c":3.85,"v":0.2},{"d":"2023-12-29","h":3.97,"l":3.75,"c":3.85,"v":0.2},
{"d":"2024-01-02","h":4.05,"l":3.7,"c":3.9,"v":0.2},{"d":"2024-01-03","h":4.1,"l":3.8,"c":4.0,"v":0.2},{"d":"2024-01-04","h":4.15,"l":3.85,"c":4.05,"v":0.18},{"d":"2024-01-05","h":4.2,"l":3.95,"c":4.14,"v":0.18},
{"d":"2024-01-08","h":4.58,"l":4.08,"c":4.3,"v":0.22},{"d":"2024-01-09","h":4.45,"l":4.15,"c":4.25,"v":0.15},{"d":"2024-01-10","h":4.4,"l":4.1,"c":4.35,"v":0.15},{"d":"2024-01-11","h":4.45,"l":4.2,"c":4.3,"v":0.15},{"d":"2024-01-12","h":4.4,"l":4.15,"c":4.25,"v":0.15},
{"d":"2024-01-16","h":4.3,"l":3.42,"c":3.7,"v":0.6},{"d":"2024-01-17","h":4.1,"l":3.7,"c":4.0,"v":0.15},{"d":"2024-01-18","h":4.2,"l":3.85,"c":4.03,"v":0.15},{"d":"2024-01-19","h":4.1,"l":3.9,"c":4.0,"v":0.12},
{"d":"2024-01-22","h":4.15,"l":3.9,"c":4.05,"v":0.12},{"d":"2024-01-23","h":4.12,"l":3.95,"c":4.0,"v":0.12},{"d":"2024-01-24","h":4.1,"l":3.9,"c":4.05,"v":0.1},{"d":"2024-01-25","h":4.05,"l":3.85,"c":3.95,"v":0.1},{"d":"2024-01-26","h":4.0,"l":3.75,"c":3.8,"v":0.12},
{"d":"2024-01-29","h":3.9,"l":3.6,"c":3.65,"v":0.12},{"d":"2024-01-30","h":3.75,"l":3.4,"c":3.45,"v":0.12},{"d":"2024-01-31","h":3.6,"l":3.26,"c":3.38,"v":0.15},{"d":"2024-02-01","h":3.5,"l":3.3,"c":3.35,"v":0.12},{"d":"2024-02-02","h":3.45,"l":3.3,"c":3.33,"v":0.12},
{"d":"2024-02-05","h":3.45,"l":3.3,"c":3.38,"v":0.1},{"d":"2024-02-06","h":3.5,"l":3.3,"c":3.4,"v":0.1},{"d":"2024-02-07","h":3.6,"l":3.35,"c":3.5,"v":0.1},{"d":"2024-02-08","h":3.65,"l":3.4,"c":3.6,"v":0.12},{"d":"2024-02-09","h":3.7,"l":3.5,"c":3.65,"v":0.1},
{"d":"2024-02-12","h":3.97,"l":3.64,"c":3.9,"v":0.15},{"d":"2024-02-13","h":3.9,"l":3.65,"c":3.72,"v":0.12},{"d":"2024-02-14","h":3.85,"l":3.7,"c":3.8,"v":0.1},{"d":"2024-02-15","h":3.85,"l":3.7,"c":3.78,"v":0.1},{"d":"2024-02-16","h":3.9,"l":3.7,"c":3.75,"v":0.1},
{"d":"2024-02-20","h":3.92,"l":3.75,"c":3.8,"v":0.1},{"d":"2024-02-21","h":3.92,"l":3.75,"c":3.92,"v":0.1},{"d":"2024-02-22","h":3.95,"l":3.8,"c":3.88,"v":0.1},{"d":"2024-02-23","h":3.92,"l":3.8,"c":3.85,"v":0.1},
{"d":"2024-02-26","h":3.92,"l":3.8,"c":3.87,"v":0.1},{"d":"2024-02-27","h":3.9,"l":3.75,"c":3.82,"v":0.1},{"d":"2024-02-28","h":3.88,"l":3.72,"c":3.8,"v":0.1},{"d":"2024-02-29","h":3.9,"l":3.7,"c":3.75,"v":0.1},{"d":"2024-03-01","h":3.85,"l":3.7,"c":3.78,"v":0.1},
{"d":"2024-03-04","h":3.85,"l":3.68,"c":3.72,"v":0.1},{"d":"2024-03-05","h":3.8,"l":3.65,"c":3.7,"v":0.1},{"d":"2024-03-06","h":3.78,"l":3.6,"c":3.68,"v":0.1},{"d":"2024-03-07","h":3.75,"l":3.58,"c":3.65,"v":0.1},{"d":"2024-03-08","h":4.08,"l":3.5,"c":3.62,"v":0.15},
{"d":"2024-03-11","h":3.6,"l":3.4,"c":3.5,"v":0.15},{"d":"2024-03-12","h":3.52,"l":2.65,"c":2.75,"v":1.16},{"d":"2024-03-13","h":2.85,"l":2.65,"c":2.7,"v":0.3},{"d":"2024-03-14","h":2.8,"l":2.62,"c":2.72,"v":0.2},{"d":"2024-03-15","h":2.78,"l":2.6,"c":2.68,"v":0.15},
{"d":"2024-03-18","h":2.75,"l":2.6,"c":2.7,"v":0.15},{"d":"2024-03-19","h":2.72,"l":2.58,"c":2.65,"v":0.15},{"d":"2024-03-20","h":2.7,"l":2.55,"c":2.6,"v":0.15},{"d":"2024-03-21","h":2.68,"l":2.5,"c":2.58,"v":0.15},{"d":"2024-03-22","h":2.65,"l":2.45,"c":2.5,"v":0.15},
{"d":"2024-03-25","h":2.6,"l":2.42,"c":2.5,"v":0.15},{"d":"2024-03-26","h":2.55,"l":2.4,"c":2.45,"v":0.15},{"d":"2024-03-27","h":2.5,"l":2.35,"c":2.38,"v":0.15},{"d":"2024-03-28","h":2.45,"l":2.3,"c":2.38,"v":0.15},
{"d":"2024-04-01","h":2.49,"l":2.25,"c":2.35,"v":0.15},{"d":"2024-04-02","h":2.45,"l":2.2,"c":2.3,"v":0.15},{"d":"2024-04-03","h":2.4,"l":2.16,"c":2.3,"v":0.5},{"d":"2024-04-04","h":2.4,"l":2.2,"c":2.28,"v":0.2},{"d":"2024-04-05","h":2.38,"l":2.2,"c":2.25,"v":0.5},
{"d":"2024-04-08","h":2.42,"l":2.15,"c":2.22,"v":0.5},{"d":"2024-04-09","h":2.35,"l":2.1,"c":2.2,"v":0.2},{"d":"2024-04-10","h":2.3,"l":2.08,"c":2.22,"v":0.15},{"d":"2024-04-11","h":2.35,"l":2.1,"c":2.2,"v":0.15},{"d":"2024-04-12","h":2.3,"l":2.05,"c":2.15,"v":0.15},
{"d":"2024-04-15","h":2.35,"l":2.1,"c":2.2,"v":0.15},{"d":"2024-04-16","h":2.38,"l":2.15,"c":2.3,"v":0.15},{"d":"2024-04-17","h":2.42,"l":2.2,"c":2.25,"v":0.15},{"d":"2024-04-18","h":2.4,"l":2.18,"c":2.2,"v":0.15},{"d":"2024-04-19","h":3.52,"l":2.54,"c":3.3,"v":11.8},
{"d":"2024-04-22","h":3.45,"l":3.2,"c":3.3,"v":0.7},{"d":"2024-04-23","h":3.45,"l":3.1,"c":3.25,"v":0.2},{"d":"2024-04-24","h":3.35,"l":3.1,"c":3.15,"v":0.15},{"d":"2024-04-25","h":3.3,"l":3.08,"c":3.15,"v":0.15},{"d":"2024-04-26","h":3.3,"l":3.1,"c":3.2,"v":0.15},
{"d":"2024-04-29","h":3.3,"l":3.1,"c":3.15,"v":0.15},{"d":"2024-04-30","h":3.3,"l":3.1,"c":3.2,"v":0.15},{"d":"2024-05-01","h":3.4,"l":3.15,"c":3.35,"v":0.15},{"d":"2024-05-02","h":3.55,"l":3.3,"c":3.47,"v":0.5},{"d":"2024-05-03","h":3.64,"l":3.35,"c":3.5,"v":0.2},
{"d":"2024-05-06","h":3.7,"l":3.5,"c":3.62,"v":0.18},{"d":"2024-05-07","h":3.705,"l":3.55,"c":3.65,"v":0.31}
]
},
"vconcat":[
{
"width":780,"height":368,
"layer":[
{"data":{"name":"px"},"mark":{"type":"rule","color":"black","strokeWidth":1.3},
"encoding":{
"x":{"field":"d","type":"temporal","title":null,"scale":{"type":"utc","domain":[{"year":2022,"month":5,"date":8,"hours":3,"utc":true},{"year":2024,"month":5,"date":7,"hours":17,"utc":true}]},"axis":{"grid":true,"labels":false,"ticks":false,"domain":false,"tickCount":{"interval":"month","step":1}}},
"y":{"field":"l","type":"quantitative","title":null,"scale":{"domain":[1.817,13.767],"nice":false,"zero":false},"axis":{"orient":"right","values":[2.4,3,3.6,4.2,4.8,5.4,6,6.6,7.2,7.8,8.4,9,9.6,10.2,10.8,11.4,12,12.6,13.2],"format":".2f","grid":true,"labelPadding":1,"labelOffset":-2.5}},
"y2":{"field":"h"}
}},
{"data":{"name":"px"},"mark":{"type":"point","shape":"square","filled":true,"size":3,"color":"#ff0000","opacity":1,"xOffset":1},
"encoding":{"x":{"field":"d","type":"temporal","title":null},"y":{"field":"c","type":"quantitative","title":null}}},
{"data":{"name":"ma"},"mark":{"type":"line","strokeWidth":1},
"encoding":{"x":{"field":"d","type":"temporal","title":null},"y":{"field":"p","type":"quantitative","title":null},"color":{"field":"s","type":"nominal","scale":{"domain":["a","b"],"range":["#ff00ff","#0000ff"]},"legend":null}}},
{"data":{"values":[{}]},"mark":{"type":"rule","color":"black","strokeWidth":2},
"encoding":{"x":{"datum":{"year":2022,"month":5,"date":8,"hours":3,"utc":true},"type":"temporal"},"x2":{"datum":{"year":2024,"month":6,"date":25,"utc":true}},"y":{"datum":13.767,"type":"quantitative"}}},
{"data":{"values":[{"t":"US:OPRT"}]},"mark":{"type":"text","align":"left","baseline":"alphabetic","dx":7,"dy":14.5,"font":"Liberation Sans","fontSize":13,"color":"black"},
"encoding":{"x":{"datum":{"year":2022,"month":5,"date":8,"hours":3,"utc":true},"type":"temporal"},"y":{"datum":13.767,"type":"quantitative"},"text":{"field":"t"}}}
]
},
{
"spacing":-2,
"vconcat":[
{
"width":780,"height":108.3,
"layer":[
{"data":{"name":"px"},
"transform":[{"window":[{"op":"lag","field":"c","as":"pc"}]}],
"mark":{"type":"rule","strokeWidth":1},
"encoding":{
"x":{"field":"d","type":"temporal","title":null,"scale":{"type":"utc","domain":[{"year":2022,"month":5,"date":8,"hours":3,"utc":true},{"year":2024,"month":5,"date":7,"hours":17,"utc":true}]},"axis":{"grid":true,"labels":false,"ticks":false,"domain":false,"tickCount":{"interval":"month","step":1}}},
"y":{"field":"v","type":"quantitative","title":null,"scale":{"domain":[-0.45,12.14],"nice":false,"zero":false},"axis":{"orient":"right","values":[3,6,9],"labelExpr":"format(datum.value, '.1f') + ' M'","grid":true,"labelPadding":6}},
"y2":{"datum":-0.45},
"color":{"condition":{"test":"datum.pc == null || datum.c >= datum.pc","value":"#3cb43c"},"value":"#ff0000"}
}},
{"data":{"values":[{"t":"Volume"}]},"mark":{"type":"text","align":"left","baseline":"alphabetic","dx":7.5,"dy":15.5,"font":"Liberation Sans","fontSize":13,"color":"black"},
"encoding":{"x":{"datum":{"year":2022,"month":5,"date":8,"hours":3,"utc":true},"type":"temporal"},"y":{"datum":12.14,"type":"quantitative"},"text":{"field":"t"}}}
]
},
{
"width":780,"height":17.3,
"data":{"name":"yrs"},
"mark":{"type":"rule","color":"black","strokeWidth":2},
"encoding":{"x":{"field":"d","type":"temporal","title":null,"scale":{"type":"utc","domain":[{"year":2022,"month":5,"date":8,"hours":3,"utc":true},{"year":2024,"month":5,"date":7,"hours":17,"utc":true}]},"axis":null}}
},
{
"width":780,"height":14.4,
"layer":[
{"data":{"name":"yrs"},"mark":{"type":"rule","color":"black","strokeWidth":2},
"encoding":{"x":{"field":"d","type":"temporal","title":null,"scale":{"type":"utc","domain":[{"year":2022,"month":5,"date":8,"hours":3,"utc":true},{"year":2024,"month":5,"date":7,"hours":17,"utc":true}]},"axis":null}}},
{"data":{"name":"px"},"mark":{"type":"text","font":"Liberation Sans","fontSize":13,"color":"black","baseline":"middle","dy":0},
"encoding":{"x":{"field":"d","aggregate":"mean","type":"temporal","title":null},"y":{"datum":0.5,"type":"quantitative","scale":{"domain":[0,1]},"axis":null},"text":{"field":"d","timeUnit":"utcyear","type":"temporal","format":"%Y"}}}
]
}
]
}
]
}
